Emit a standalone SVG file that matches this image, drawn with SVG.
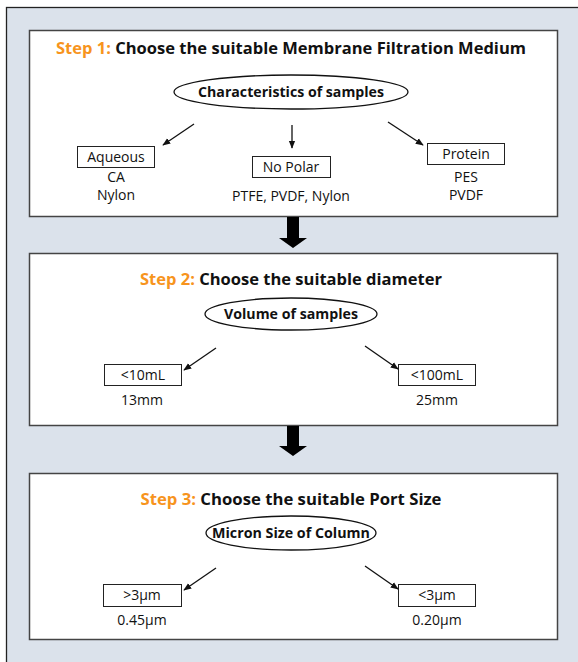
<svg xmlns="http://www.w3.org/2000/svg" width="578" height="662" viewBox="0 0 578 662">
<defs>
<style>
.panel{fill:#fff;stroke:#444;stroke-width:1.5}
.ell{fill:#fff;stroke:#111;stroke-width:1.3}
.box{fill:#fff;stroke:#222;stroke-width:1}
.title{font-family:"Open Sans","Liberation Sans",sans-serif;font-weight:bold;font-size:16.5px;fill:#111;text-anchor:middle}
.step{fill:#f7941d}
.etxt{font-family:"Open Sans","Liberation Sans",sans-serif;font-weight:bold;font-size:14.5px;fill:#111;text-anchor:middle}
.txt{font-family:"Open Sans","Liberation Sans",sans-serif;font-size:14px;fill:#111;text-anchor:middle}
.con{stroke:#111;stroke-width:1.3;fill:none;marker-end:url(#ah)}
.big{fill:#000}
</style>
<marker id="ah" viewBox="0 0 10 10" refX="9" refY="5" markerWidth="8" markerHeight="8" orient="auto" markerUnits="userSpaceOnUse">
<path d="M0,1 L10,5 L0,9 Z" fill="#111"/>
</marker>
</defs>
<rect x="6.5" y="7.5" width="600" height="700" fill="#dbe2eb" stroke="#222" stroke-width="1.3"/>

<g id="step1">
<rect class="panel" x="29.5" y="30.5" width="528" height="186"/>
<text class="title" x="291" y="54" textLength="470" lengthAdjust="spacingAndGlyphs"><tspan class="step">Step 1:</tspan> Choose the suitable Membrane Filtration Medium</text>
</g>
<g id="characteristics">
<ellipse class="ell" cx="291" cy="92" rx="117" ry="17"/>
<text class="etxt" x="291" y="97" textLength="186" lengthAdjust="spacingAndGlyphs">Characteristics of samples</text>
</g>
<g id="aqueous">
<rect class="box" x="77.5" y="146.5" width="77" height="21"/>
<text class="txt" x="116" y="162">Aqueous</text>
<text class="txt" x="116" y="182">CA</text>
<text class="txt" x="116" y="200">Nylon</text>
</g>
<g id="nopolar">
<rect class="box" x="252.5" y="156.5" width="78" height="21"/>
<text class="txt" x="291" y="172">No Polar</text>
<text class="txt" x="291" y="201">PTFE, PVDF, Nylon</text>
</g>
<g id="protein">
<rect class="box" x="427.5" y="143.5" width="77" height="21"/>
<text class="txt" x="466" y="159">Protein</text>
<text class="txt" x="466" y="182">PES</text>
<text class="txt" x="466" y="200">PVDF</text>
</g>

<g id="step2">
<rect class="panel" x="29.5" y="253.5" width="528" height="172"/>
<text class="title" x="291" y="285" textLength="302" lengthAdjust="spacingAndGlyphs"><tspan class="step">Step 2:</tspan> Choose the suitable diameter</text>
</g>
<g id="volume">
<ellipse class="ell" cx="291" cy="314" rx="86" ry="16"/>
<text class="etxt" x="291" y="319" textLength="134" lengthAdjust="spacingAndGlyphs">Volume of samples</text>
</g>
<g id="lt10">
<rect class="box" x="104.5" y="364.5" width="77" height="21"/>
<text class="txt" x="143" y="380">&lt;10mL</text>
<text class="txt" x="142" y="405">13mm</text>
</g>
<g id="lt100">
<rect class="box" x="398.5" y="364.5" width="77" height="21"/>
<text class="txt" x="437" y="380">&lt;100mL</text>
<text class="txt" x="437" y="405">25mm</text>
</g>

<g id="step3">
<rect class="panel" x="29.5" y="473.5" width="528" height="166"/>
<text class="title" x="291" y="505" textLength="301" lengthAdjust="spacingAndGlyphs"><tspan class="step">Step 3:</tspan> Choose the suitable Port Size</text>
</g>
<g id="micron">
<ellipse class="ell" cx="291" cy="533" rx="85" ry="17"/>
<text class="etxt" x="291" y="538" textLength="158" lengthAdjust="spacingAndGlyphs">Micron Size of Column</text>
</g>
<g id="gt3">
<rect class="box" x="103.5" y="584.5" width="78" height="22"/>
<text class="txt" x="142" y="600">&gt;3μm</text>
<text class="txt" x="142" y="625">0.45μm</text>
</g>
<g id="lt3">
<rect class="box" x="398.5" y="584.5" width="77" height="22"/>
<text class="txt" x="437" y="600">&lt;3μm</text>
<text class="txt" x="437" y="625">0.20μm</text>
</g>

<g id="connectors">
<line class="con" x1="194" y1="124" x2="163" y2="145"/>
<line class="con" x1="292" y1="125" x2="292" y2="148"/>
<line class="con" x1="388" y1="122" x2="423" y2="145"/>
<line class="con" x1="216" y1="348" x2="184" y2="370"/>
<line class="con" x1="365" y1="346" x2="398" y2="369"/>
<line class="con" x1="216" y1="568" x2="184" y2="590"/>
<line class="con" x1="365" y1="566" x2="398" y2="589"/>
<path class="big" d="M287,217 L299,217 L299,238 L307,238 L293,248 L279,238 L287,238 Z"/>
<path class="big" d="M287,426 L299,426 L299,446 L307,446 L293,456 L279,446 L287,446 Z"/>
</g>
</svg>
